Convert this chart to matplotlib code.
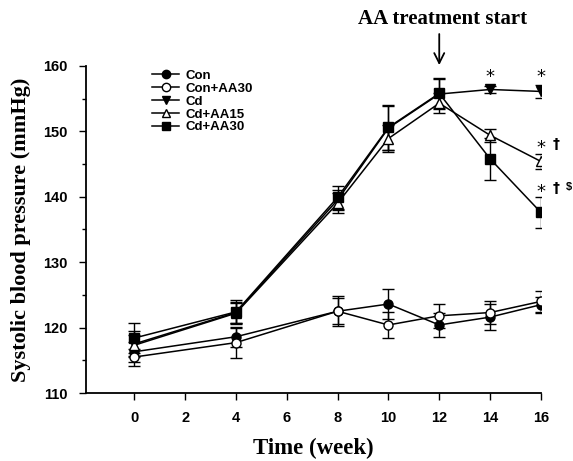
import matplotlib
matplotlib.use("Agg")
import matplotlib.pyplot as plt
from matplotlib.lines import Line2D
from matplotlib.ticker import MultipleLocator

weeks = [0, 4, 8, 10, 12, 14, 16]

con = [116.3, 118.6, 122.5, 123.6, 120.4, 121.6, 123.5]
con_err = [1.5, 1.5, 2.0, 2.3, 1.8, 2.0, 1.2]
con_aa30 = [115.5, 117.7, 122.5, 120.4, 121.8, 122.3, 124.0]
con_aa30_err = [1.3, 2.3, 2.3, 2.0, 1.8, 1.8, 1.6]
cd = [117.5, 122.3, 139.5, 150.5, 155.7, 156.4, 156.1]
cd_err = [2.0, 1.6, 1.5, 3.3, 2.3, 0.6, 1.0]
cd_aa15 = [117.3, 122.2, 139.0, 148.9, 154.3, 149.4, 145.4]
cd_aa15_err = [1.6, 1.5, 1.5, 2.0, 1.5, 1.0, 1.1]
cd_aa30 = [118.4, 122.4, 139.9, 150.6, 155.8, 145.8, 137.6]
cd_aa30_err = [2.3, 1.8, 1.7, 3.4, 2.3, 3.2, 2.3]

series = [
    ("Con", con, con_err, "o", "black"),
    ("Con+AA30", con_aa30, con_aa30_err, "o", "white"),
    ("Cd", cd, cd_err, "v", "black"),
    ("Cd+AA15", cd_aa15, cd_aa15_err, "^", "white"),
    ("Cd+AA30", cd_aa30, cd_aa30_err, "s", "black"),
]

fig = plt.figure(figsize=(5.73, 4.61), dpi=100)
ax = fig.add_axes([0.150, 0.1475, 0.794, 0.7095])

handles = []
for name, vals, err, mk, fc in series:
    ax.errorbar(weeks, vals, yerr=err, color="black", lw=1.1, marker=mk,
                markersize=6.5, markerfacecolor=fc, markeredgecolor="black",
                capsize=4, elinewidth=1.0, capthick=1.0)
    handles.append(Line2D([], [], color="black", lw=1.1, marker=mk,
                          markersize=6, markerfacecolor=fc,
                          markeredgecolor="black", label=name))

ax.set_xlim(-1.9, 16)
ax.set_ylim(110, 160)
ax.set_xticks(range(0, 17, 2))
ax.yaxis.set_major_locator(MultipleLocator(10))
ax.yaxis.set_minor_locator(MultipleLocator(5))
ax.spines["top"].set_visible(False)
ax.spines["right"].set_visible(False)
ax.spines["left"].set_linewidth(1.3)
ax.spines["bottom"].set_linewidth(1.3)
ax.tick_params(which="both", direction="out", width=1.0)
ax.tick_params(which="major", length=5, pad=8)
ax.tick_params(which="minor", length=3)
for lab in ax.get_xticklabels() + ax.get_yticklabels():
    lab.set_fontfamily("Liberation Sans")
    lab.set_fontweight("bold")
    lab.set_fontsize(10.5)

ax.set_xlabel("Time (week)", fontfamily="Liberation Serif", fontweight="bold",
              fontsize=16.5, labelpad=9)
ax.set_ylabel("Systolic blood pressure (mmHg)", fontfamily="Liberation Serif",
              fontweight="bold", fontsize=16, labelpad=9)

ax.annotate("", xy=(12, 159.7), xytext=(12, 165.3), annotation_clip=False,
            arrowprops=dict(arrowstyle="->", color="black", lw=1.3,
                            mutation_scale=18))
ax.text(12.15, 166.4, "AA treatment start", ha="center", va="baseline",
        fontfamily="Liberation Serif", fontweight="bold", fontsize=15,
        clip_on=False)

sym = dict(ha="center", va="center", fontsize=13, fontfamily="DejaVu Sans")
dag = dict(ha="center", va="center", fontsize=10, fontfamily="DejaVu Sans",
           fontweight="bold")
ax.text(14, 158.3, "*", **sym)
ax.text(16, 158.3, "*", **sym)
ax.text(16, 147.5, "*", **sym)
ax.text(16.6, 148.0, "†", **dag)
ax.text(16, 140.8, "*", **sym)
ax.text(16.6, 141.3, "†", **dag)
ax.text(17.1, 141.5, "$", ha="center", va="center", fontsize=8,
        fontfamily="Liberation Sans", fontweight="bold")

leg = ax.legend(handles=handles, loc="upper left",
                bbox_to_anchor=(0.12, 1.025), frameon=False,
                prop={"family": "Liberation Sans", "weight": "bold", "size": 9.5},
                handlelength=2.0, labelspacing=0.05, handletextpad=0.5)

fig.savefig("out.png", dpi=100)
